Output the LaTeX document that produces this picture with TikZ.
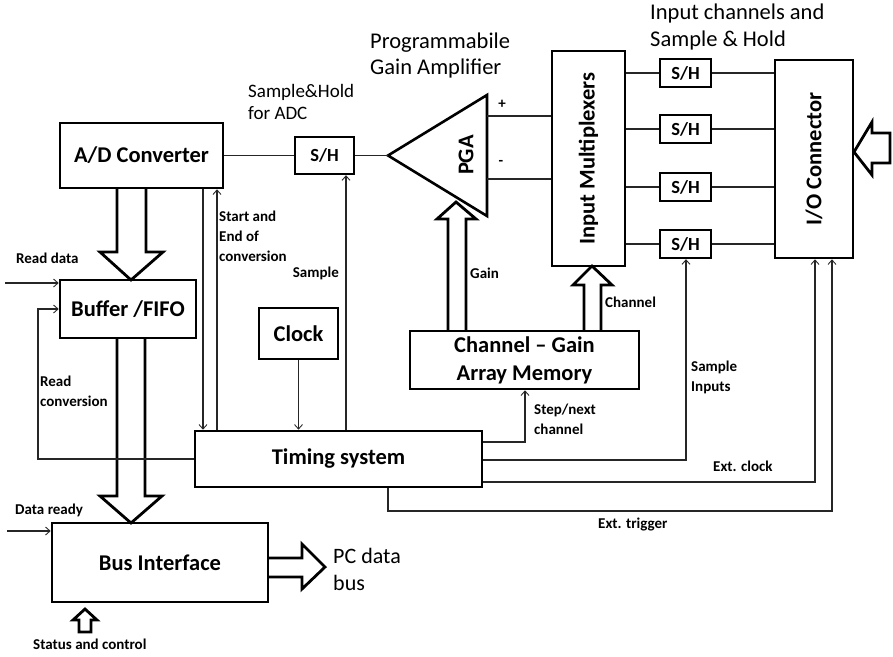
\documentclass[tikz,border=0pt]{standalone}
\usepackage{fontspec}
\setmainfont{Carlito}
\usetikzlibrary{arrows.meta}
\newcommand\fsBox{\fontsize{22.5}{28}\selectfont\bfseries}
\newcommand\fsSH{\fontsize{18.5}{20}\selectfont\bfseries}
\newcommand\fsLab{\fontsize{15}{20}\selectfont\bfseries}
\newcommand\fsTitle{\fontsize{22.5}{26}\selectfont}
\newcommand\fsSub{\fontsize{19}{21.5}\selectfont}
\newcommand\fsBus{\fontsize{22}{27}\selectfont}
\begin{document}
\begin{tikzpicture}[x=1pt,y=-1pt,
  box/.style={draw,line width=2.6pt,inner sep=0pt,font=\fsBox,align=center},
  shbox/.style={draw,line width=2.4pt,inner sep=0pt,font=\fsSH,minimum width=51pt,minimum height=28pt},
  conn/.style={line width=1.1pt,draw=black!85},
  sig/.style={conn,-{Straight Barb[length=4.5pt,width=8pt,line width=0.9pt]}},
  hollow/.style={line width=2.8pt,line join=miter,miter limit=10},
  lab/.style={inner sep=0pt,font=\fsLab,align=left},
]
\useasboundingbox (0,0) rectangle (893,656);

% ---- blocks ----
\node[box,minimum width=163pt,minimum height=65pt] (adc) at (141.5,155.5) {A/D Converter};
\node[box,minimum width=136pt,minimum height=58pt] (buf) at (128,309) {Buffer /FIFO};
\node[box,minimum width=216pt,minimum height=79pt] (bus) at (160,562.5) {Bus Interface};
\node[box,minimum width=287pt,minimum height=56pt] (tim) at (338.5,459) {Timing system};
\node[box,minimum width=79pt,minimum height=51pt] (clk) at (298.5,333.5) {Clock};
\node[box,minimum width=229pt,minimum height=58pt] (cgm) at (524.5,360) {Channel -- Gain\\Array Memory};
\node[box,minimum width=73pt,minimum height=215pt] (mux) at (588.5,158.5) {};
\node[font=\fsBox,rotate=90] (muxt) at (mux.center) {Input Multiplexers};
\node[box,minimum width=78pt,minimum height=198pt] (io) at (814,159) {};
\node[font=\fsBox,rotate=90] (iot) at (io.center) {I/O Connector};
\node[shbox,minimum width=59pt,minimum height=37pt] (shA) at (324.5,155.5) {S/H};
\node[shbox] (sh1) at (685.5,73) {S/H};
\node[shbox] (sh2) at (685.5,129) {S/H};
\node[shbox] (sh3) at (685.5,187) {S/H};
\node[shbox] (sh4) at (685.5,244) {S/H};

% ---- programmable gain amplifier ----
\coordinate (pgatip) at (388,155.5);
\coordinate (pgatop) at (487,95);
\coordinate (pgabot) at (487,216);
\draw[line width=2.6pt,line join=miter] (pgatip) -- (pgatop) -- (pgabot) -- cycle;
\node[font=\fsBox,rotate=90] (pgat) at (466,155) {PGA};
\coordinate (pgap) at (487,116);
\coordinate (pgam) at (487,179);
\draw[conn] (pgap) -- (pgap -| mux.west);
\draw[conn] (pgam) -- (pgam -| mux.west);
\node[font=\fsLab] (plus) at (502,104) {+};
\node[font=\fsLab] (minus) at (501,163) {-};

% ---- analog signal path ----
\draw[conn] (adc.east) -- (shA.west);
\draw[conn] (shA.east) -- (pgatip);
\foreach \s in {sh1,sh2,sh3,sh4}{
  \draw[conn] (mux.east |- \s.west) -- (\s.west);
  \draw[conn] (\s.east) -- (\s.east -| io.west);
}

% ---- wide data paths ----
\draw[hollow] (117,188) -- (117,252) -- (100,252) -- (131,280) -- (163,252) -- (146,252) -- (146,188);
\draw[hollow] (117,338) -- (117,496) -- (100,496) -- (131,523) -- (162,496) -- (145,496) -- (145,338);
\draw[hollow] (448,331) -- (448,219) -- (437,219) -- (456,202) -- (476,219) -- (466,219) -- (466,331);
\draw[hollow] (584,331) -- (584,285) -- (573,285) -- (592,266) -- (612,285) -- (601,285) -- (601,331);
\draw[hollow] (268,558) -- (302,558) -- (302,544) -- (325,567) -- (302,589) -- (302,577) -- (268,577);
\draw[hollow] (79,632) -- (79,620) -- (73,620) -- (85,609) -- (97,620) -- (91,620) -- (91,632) -- cycle;
\draw[hollow] (890,133) -- (872,133) -- (872,122) -- (854,152) -- (872,175) -- (872,163) -- (890,163) -- cycle;

% ---- control signals ----
\coordinate (xeoc) at (203,0);
\coordinate (xsoc) at (217,0);
\coordinate (xsmp) at (346,0);
\draw[sig] (adc.south -| xeoc) -- (tim.north -| xeoc);
\draw[sig] (tim.north -| xsoc) -- (adc.south -| xsoc);
\draw[sig] (tim.north -| xsmp) -- (shA.south -| xsmp);
\draw[sig] (clk.south) -- (tim.north -| clk.south);
\coordinate (rcx) at (38,309);
\draw[sig] (tim.west) -| (rcx) -- (buf.west);
\coordinate (rdin) at (5,283);
\draw[sig] (rdin) -- (rdin -| buf.west);
\coordinate (drin) at (7,531);
\draw[sig] (drin) -- (drin -| bus.west);
\coordinate (stp) at (525,442);
\draw[sig] (tim.east |- stp) -| (cgm.south -| stp);
\coordinate (smi) at (686,460);
\draw[sig] (tim.east |- smi) -| (sh4.south -| smi);
\coordinate (ecl) at (815,482);
\draw[sig] (tim.east |- ecl) -| (io.south -| ecl);
\coordinate (etx) at (388,511);
\coordinate (etr) at (832,511);
\draw[sig] (tim.south -| etx) -- (etx) -- (etr) -- (io.south -| etr);

% ---- labels ----
\node[lab,anchor=west] (lrd) at (16,258) {Read data};
\node[lab,anchor=west] (lrc) at (40,391) {Read\\conversion};
\node[lab,anchor=west] (ldr) at (15,510) {Data ready};
\node[lab,anchor=west] (lsc) at (33,644) {Status and control};
\node[inner sep=0pt,font=\fsBus,align=left,anchor=west] (lpc) at (333,569.5) {PC data\\bus};
\node[lab,anchor=west] (lsoc) at (219,236) {Start and\\End of\\conversion};
\node[lab,anchor=east] (lsam) at (339,273) {Sample};
\node[lab,anchor=west] (lgain) at (470,273) {Gain};
\node[lab,anchor=west] (lch) at (605,302) {Channel};
\node[lab,anchor=west] (lstp) at (534,419) {Step/next\\channel};
\node[lab,anchor=west] (lsi) at (691,377) {Sample\\Inputs};
\node[lab,anchor=west] (lecl) at (713,466) {Ext. clock};
\node[lab,anchor=west] (letr) at (598,524) {Ext. trigger};
\node[inner sep=0pt,font=\fsSub,align=left,anchor=west] (lsha) at (248,102) {Sample\&Hold\\for ADC};
\node[inner sep=0pt,font=\fsTitle,align=left,anchor=west] (lpga) at (370,55.5) {Programmabile\\Gain Amplifier};
\node[inner sep=0pt,font=\fsTitle,align=left,anchor=west] (lich) at (650,27) {Input channels and\\Sample \& Hold};
\end{tikzpicture}
\end{document}
